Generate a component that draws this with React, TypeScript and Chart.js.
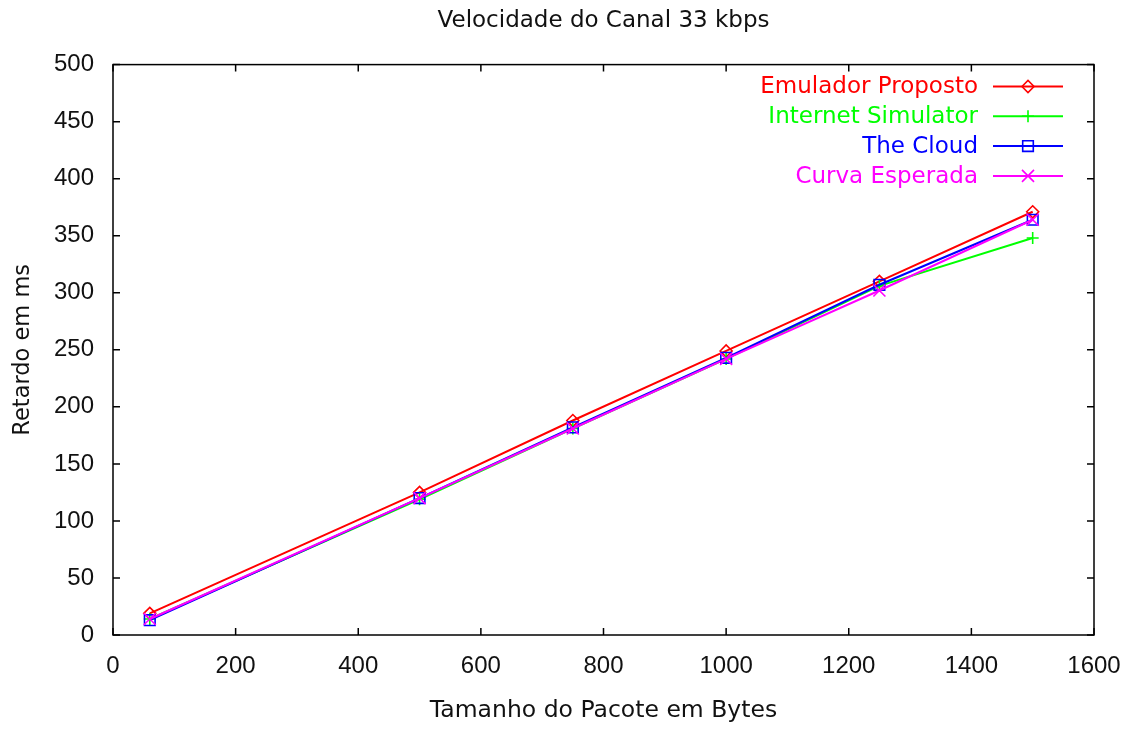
import React, { useEffect, useRef } from 'react';
import { Chart, registerables } from 'chart.js';
import { drawPoint } from 'chart.js/helpers';

Chart.register(...registerables);

// Packet size (bytes) on the x axis
const packetSizes = [60, 500, 750, 1000, 1250, 1500];

// Delay (ms) for each tool
const emuladorProposto = [19, 125, 188, 249, 310, 371];
const internetSimulator = [14, 119, 181, 242, 306, 348];
const theCloud = [13, 120, 182, 243, 307, 364];
const curvaEsperada = [14, 120, 181, 242, 302, 364];

const seriesNames = ['Emulador Proposto', 'Internet Simulator', 'The Cloud', 'Curva Esperada'];
const seriesColors = ['#ff0000', '#00ff00', '#0000ff', '#ff00ff'];
const seriesMarkers = ['rectRot', 'cross', 'rect', 'crossRot'];
const markerRadius = [6, 6, 7.5, 8.5];

// Axis tick values
const xTickValues = [0, 200, 400, 600, 800, 1000, 1200, 1400, 1600];
const yTickValues = [0, 50, 100, 150, 200, 250, 300, 350, 400, 450, 500];

const titleText = 'Velocidade do Canal 33 kbps';
const xTitleText = 'Tamanho do Pacote em Bytes';
const yTitleText = 'Retardo em ms';

const TEXT_FONT = '"DejaVu Sans", sans-serif';
const TICK_FONT = '"Liberation Sans", Arial, sans-serif';

// Plot box edges on the canvas
const PLOT_RIGHT_GAP = 35;

// Box around the plot with short inward tick marks on all four sides
const framePlugin = {
  id: 'frame',
  beforeDatasetsDraw(chart: any) {
    const { ctx, chartArea, scales } = chart;
    const { left, right, top, bottom } = chartArea;
    const len = 7;
    ctx.save();
    ctx.strokeStyle = '#000';
    ctx.lineWidth = 1.5;
    ctx.strokeRect(left, top, right - left, bottom - top);
    ctx.beginPath();
    xTickValues.forEach((v) => {
      const px = scales.x.getPixelForValue(v);
      ctx.moveTo(px, bottom);
      ctx.lineTo(px, bottom - len);
      ctx.moveTo(px, top);
      ctx.lineTo(px, top + len);
    });
    yTickValues.forEach((v) => {
      const py = scales.y.getPixelForValue(v);
      ctx.moveTo(left, py);
      ctx.lineTo(left + len, py);
      ctx.moveTo(right, py);
      ctx.lineTo(right - len, py);
    });
    ctx.stroke();
    ctx.restore();
  },
};

// Key in the upper right: label right-aligned, then a line sample with its marker
const keyPlugin = {
  id: 'key',
  afterDatasetsDraw(chart: any) {
    const { ctx } = chart;
    const textRight = 978;
    const lineStart = 993;
    const lineEnd = 1063;
    const rowTop = 86.5;
    const rowStep = 29.8;
    ctx.save();
    ctx.font = `23px ${TEXT_FONT}`;
    ctx.textAlign = 'right';
    ctx.textBaseline = 'middle';
    seriesNames.forEach((name, i) => {
      const y = rowTop + i * rowStep;
      const color = seriesColors[i];
      ctx.fillStyle = color;
      ctx.fillText(name, textRight, y + 1);
      ctx.strokeStyle = color;
      ctx.lineWidth = 2;
      ctx.beginPath();
      ctx.moveTo(lineStart, y);
      ctx.lineTo(lineEnd, y);
      ctx.stroke();
      ctx.fillStyle = 'rgba(0,0,0,0)';
      ctx.lineWidth = 1.6;
      drawPoint(ctx, { pointStyle: seriesMarkers[i], radius: markerRadius[i], rotation: 0, borderWidth: 1.6 } as any, (lineStart + lineEnd) / 2, y);
    });
    ctx.restore();
  },
};

const seriesValues = [emuladorProposto, internetSimulator, theCloud, curvaEsperada];

export default function App() {
  const canvasRef = useRef<HTMLCanvasElement | null>(null);

  useEffect(() => {
    const canvas = canvasRef.current;
    if (!canvas) return;

    const datasets = seriesNames.map((name, i) => ({
      label: name,
      data: packetSizes.map((x, j) => ({ x, y: seriesValues[i][j] })),
      borderColor: seriesColors[i],
      backgroundColor: 'rgba(0,0,0,0)',
      borderWidth: 2,
      pointStyle: seriesMarkers[i],
      pointRadius: markerRadius[i],
      pointBorderWidth: 1.6,
      pointBorderColor: seriesColors[i],
      pointBackgroundColor: 'rgba(0,0,0,0)',
      tension: 0,
      fill: false,
      // later series painted on top
      order: seriesNames.length - 1 - i,
    }));

    const chart = new Chart(canvas, {
      type: 'line',
      data: { datasets },
      plugins: [framePlugin, keyPlugin],
      options: {
        animation: false,
        responsive: false,
        devicePixelRatio: 1,
        layout: { autoPadding: false, padding: { left: 0, right: PLOT_RIGHT_GAP, top: 0, bottom: 0 } },
        plugins: {
          legend: { display: false },
          tooltip: { enabled: false },
          title: {
            display: true,
            text: titleText,
            fullSize: false,
            color: '#111',
            font: { family: TEXT_FONT, size: 23, weight: 'normal' },
            padding: { top: 7, bottom: 30 },
          },
        },
        scales: {
          x: {
            type: 'linear',
            min: 0,
            max: 1600,
            grid: { display: false, drawTicks: false },
            border: { display: false },
            afterFit(scale: any) {
              scale.height = 94;
              scale.paddingLeft = 0;
              scale.paddingRight = 0;
            },
            afterBuildTicks(scale: any) {
              scale.ticks = xTickValues.map((value) => ({ value }));
            },
            ticks: {
              color: '#111',
              padding: 17,
              maxRotation: 0,
              autoSkip: false,
              font: { family: TICK_FONT, size: 24 },
              callback: (v: any) => String(v),
            },
            title: {
              display: true,
              text: xTitleText,
              color: '#111',
              font: { family: TEXT_FONT, size: 23.5 },
              padding: { top: 0, bottom: 4 },
            },
          },
          y: {
            type: 'linear',
            min: 0,
            max: 500,
            grid: { display: false, drawTicks: false },
            border: { display: false },
            afterFit(scale: any) {
              scale.width = 113;
              scale.paddingTop = 0;
              scale.paddingBottom = 0;
            },
            afterBuildTicks(scale: any) {
              scale.ticks = yTickValues.map((value) => ({ value }));
            },
            ticks: {
              color: '#111',
              padding: 19,
              autoSkip: false,
              font: { family: TICK_FONT, size: 24 },
              callback: (v: any) => String(v),
            },
            title: {
              display: true,
              text: yTitleText,
              color: '#111',
              font: { family: TEXT_FONT, size: 22.5 },
              padding: { top: 10, bottom: 0 },
            },
          },
        },
      } as any,
    });

    return () => chart.destroy();
  }, []);

  return (
    <div style={{ position: 'fixed', left: 0, top: 0, width: 1129, height: 729, background: '#fff' }}>
      <canvas ref={canvasRef} width={1129} height={729} style={{ display: 'block' }} />
    </div>
  );
}
